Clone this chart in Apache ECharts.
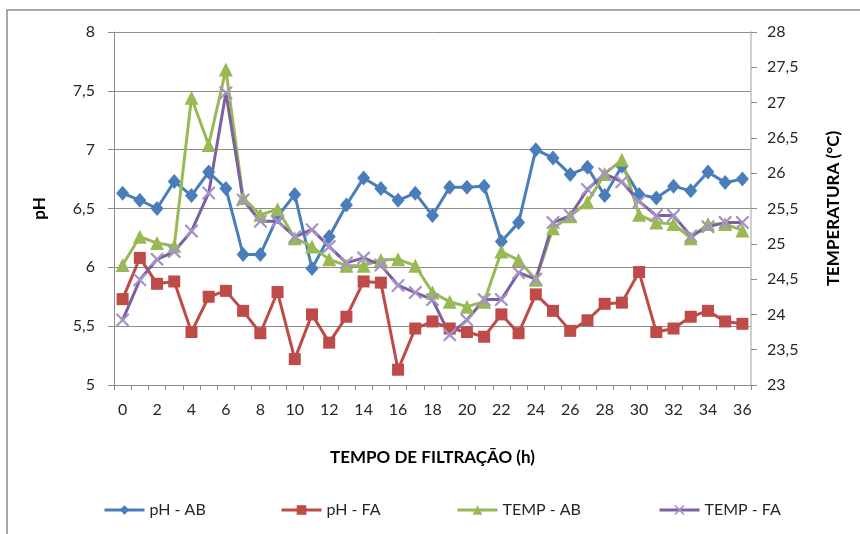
<!DOCTYPE html>
<html>
<head>
<meta charset="utf-8">
<script src="https://cdn.jsdelivr.net/npm/echarts@6/dist/echarts.min.js"></script>
<style>
  html, body { margin: 0; padding: 0; background: #fff; }
  #chart { width: 860px; height: 534px; }
</style>
</head>
<body>
<div id="chart"></div>
<script>
  // horas de filtração
  const horas = []
  for (let h = 0; h <= 36; h++) horas.push(String(h))

  // pH (eixo esquerdo)
  const phAB = [6.63, 6.57, 6.50, 6.73, 6.61, 6.81, 6.67, 6.11, 6.11, 6.43,
    6.62, 5.99, 6.26, 6.53, 6.76, 6.67, 6.57, 6.63, 6.44, 6.68,
    6.68, 6.69, 6.22, 6.38, 7.00, 6.93, 6.79, 6.85, 6.61, 6.86,
    6.62, 6.59, 6.69, 6.65, 6.81, 6.72, 6.75]
  const phFA = [5.73, 6.08, 5.86, 5.88, 5.45, 5.75, 5.80, 5.63, 5.44, 5.79,
    5.22, 5.60, 5.36, 5.58, 5.88, 5.87, 5.13, 5.48, 5.54, 5.48,
    5.45, 5.41, 5.60, 5.44, 5.77, 5.63, 5.46, 5.55, 5.69, 5.70,
    5.96, 5.45, 5.48, 5.58, 5.63, 5.54, 5.52]

  // temperatura (eixo direito)
  const tempAB = [24.70, 25.10, 25.01, 24.97, 27.07, 26.40, 27.47, 25.65, 25.41, 25.49,
    25.08, 24.96, 24.78, 24.69, 24.69, 24.77, 24.78, 24.69, 24.31, 24.18,
    24.11, 24.18, 24.89, 24.77, 24.49, 25.22, 25.39, 25.59, 25.99, 26.19,
    25.41, 25.30, 25.28, 25.08, 25.28, 25.28, 25.19]
  const tempFA = [23.92, 24.49, 24.78, 24.89, 25.18, 25.72, 27.14, 25.62, 25.32, 25.32,
    25.10, 25.20, 24.96, 24.73, 24.80, 24.70, 24.41, 24.31, 24.21, 23.71,
    23.92, 24.21, 24.21, 24.59, 24.50, 25.30, 25.40, 25.77, 25.99, 25.88,
    25.60, 25.40, 25.40, 25.11, 25.24, 25.30, 25.30]

  const FONT = 'Lato'
  const crossPath = 'path://M0,0L1.2,0L5,3.8L8.8,0L10,0L10,1.2L6.2,5L10,8.8L10,10L8.8,10L5,6.2L1.2,10L0,10L0,8.8L3.8,5L0,1.2Z'
  const virgula = v => String(v).replace('.', ',')

  const legendBase = {
    top: 497,
    itemWidth: 40,
    itemHeight: 12,
    itemGap: 5,
    lineStyle: { width: 3 },
    textStyle: { fontFamily: FONT, fontSize: 16, color: '#262626' }
  }

  const chart = echarts.init(document.getElementById('chart'))
  chart.setOption({
    animation: false,
    backgroundColor: '#fff',
    textStyle: { fontFamily: FONT },
    graphic: [{
      type: 'rect',
      shape: { x: 7, y: 10, width: 870, height: 540 },
      style: { fill: 'none', stroke: '#8c8c8c', lineWidth: 1.5 },
      silent: true
    }],
    legend: [
      Object.assign({ left: 98, data: ['pH - AB'] }, legendBase),
      Object.assign({ left: 275, data: ['pH - FA'] }, legendBase),
      Object.assign({ left: 451, data: ['TEMP - AB'] }, legendBase),
      Object.assign({ left: 653, data: ['TEMP - FA'] }, legendBase)
    ],
    grid: { left: 114, right: 109, top: 32, bottom: 149 },
    xAxis: {
      type: 'category',
      data: horas,
      boundaryGap: true,
      name: 'TEMPO DE FILTRAÇÃO (h)',
      nameLocation: 'middle',
      nameGap: 64,
      nameTextStyle: { fontFamily: FONT, fontWeight: 'bold', fontSize: 17, color: '#000' },
      axisLine: { lineStyle: { color: '#8c8c8c', width: 1 } },
      axisTick: { show: true, interval: 0, length: 5, lineStyle: { color: '#8c8c8c' } },
      axisLabel: { interval: 1, margin: 17, fontSize: 16, color: '#262626', fontFamily: FONT },
      splitLine: { show: false }
    },
    yAxis: [{
      type: 'value',
      min: 5,
      max: 8,
      interval: 0.5,
      name: 'pH',
      nameLocation: 'middle',
      nameGap: 66,
      nameRotate: 90,
      nameTextStyle: { fontFamily: FONT, fontWeight: 'bold', fontSize: 17, color: '#000' },
      axisLine: { show: true, lineStyle: { color: '#8c8c8c' } },
      axisTick: { show: true, length: 6, lineStyle: { color: '#8c8c8c' } },
      axisLabel: { margin: 19, fontSize: 16, color: '#262626', fontFamily: FONT, formatter: virgula },
      splitLine: { lineStyle: { color: '#8c8c8c', width: 1 } }
    }, {
      type: 'value',
      min: 23,
      max: 28,
      interval: 0.5,
      position: 'right',
      name: 'TEMPERATURA (°C)',
      nameLocation: 'middle',
      nameGap: 74,
      nameRotate: 90,
      nameTextStyle: { fontFamily: FONT, fontWeight: 'bold', fontSize: 17, color: '#000' },
      axisLine: { show: true, lineStyle: { color: '#bfbfbf', width: 1.5 } },
      axisTick: { show: true, length: 6, lineStyle: { color: '#8c8c8c' } },
      axisLabel: { margin: 16, fontSize: 16, color: '#262626', fontFamily: FONT, formatter: virgula },
      splitLine: { show: false }
    }],
    series: [
      {
        name: 'pH - AB',
        type: 'line',
        yAxisIndex: 0,
        data: phAB,
        showAllSymbol: true,
        symbol: 'diamond',
        symbolSize: [13, 15],
        lineStyle: { color: '#4a7ebb', width: 3 },
        itemStyle: { color: '#4a7ebb' }
      },
      {
        name: 'pH - FA',
        type: 'line',
        yAxisIndex: 0,
        data: phFA,
        showAllSymbol: true,
        symbol: 'rect',
        symbolSize: 12,
        lineStyle: { color: '#be4b48', width: 3 },
        itemStyle: { color: '#be4b48' }
      },
      {
        name: 'TEMP - AB',
        type: 'line',
        yAxisIndex: 1,
        data: tempAB,
        showAllSymbol: true,
        symbol: 'triangle',
        symbolSize: [14, 14],
        lineStyle: { color: '#98b954', width: 3 },
        itemStyle: { color: '#98b954' }
      },
      {
        name: 'TEMP - FA',
        type: 'line',
        yAxisIndex: 1,
        data: tempFA,
        showAllSymbol: true,
        symbol: crossPath,
        symbolSize: 13,
        lineStyle: { color: '#7d60a0', width: 3 },
        itemStyle: { color: '#a592c8' }
      }
    ]
  })
</script>
</body>
</html>
